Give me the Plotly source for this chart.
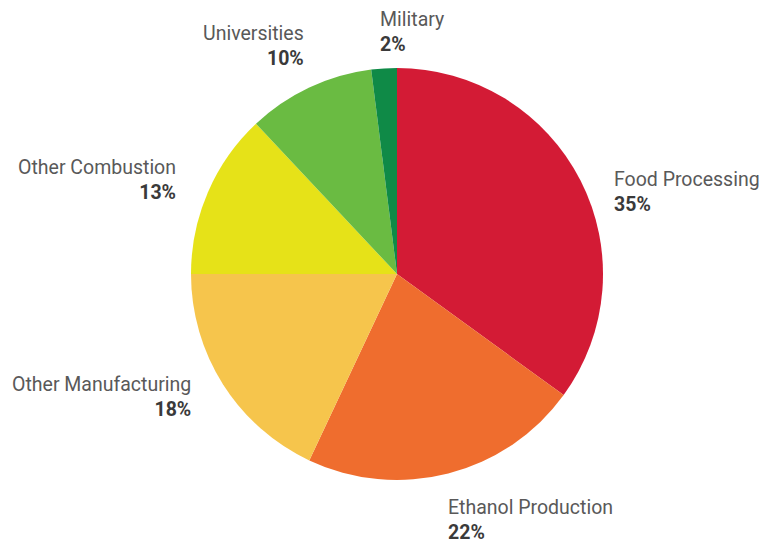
import math
import plotly.graph_objects as go

categories = ["Food Processing", "Ethanol Production", "Other Manufacturing",
              "Other Combustion", "Universities", "Military"]
values = [35, 22, 18, 13, 10, 2]
colors = ["#D31B35", "#EF6D2E", "#F6C54C", "#E6E218", "#6ABB42", "#0F8A47"]

# label placement offsets (px) from the slice edge point, and anchor side
label_dx = [31, -2, -30, -30, -3, -6]
label_dy = [12, 46, 13, -12, -42, -36]
label_side = ["left", "left", "right", "right", "right", "left"]

PAGE_OFF = 8  # default body margin of the html page
W, H = 768 - 2 * PAGE_OFF, 546 - PAGE_OFF
cx, cy, R = 397 - PAGE_OFF, 274 - PAGE_OFF, 206

fig = go.Figure(go.Pie(
    labels=categories, values=values, sort=False, direction="clockwise",
    rotation=0, marker=dict(colors=colors, line=dict(width=0)),
    textinfo="none", hoverinfo="label+percent", showlegend=False,
    domain=dict(x=[(cx - R) / W, (cx + R) / W],
                y=[(H - cy - R) / H, (H - cy + R) / H]),
))

total = sum(values)
cum = 0
annotations = []
for name, v, dx, dy, side in zip(categories, values, label_dx, label_dy, label_side):
    mid = (cum + v / 2) / total * 2 * math.pi
    cum += v
    ex = cx + R * math.sin(mid)
    ey = cy - R * math.cos(mid)
    px, py = ex + dx, ey + dy
    pct = round(v / total * 100)
    annotations.append(dict(
        x=px / W, y=1 - py / H, xref="paper", yref="paper",
        xanchor=side, yanchor="middle", align=side, showarrow=False,
        text=f"{name}<br><b><span style='color:#3a3a3a'>{pct}%</span></b>",
        font=dict(family="Roboto, Liberation Sans, sans-serif", size=19.5, color="#595959"),
    ))

fig.update_layout(
    width=W, height=H, margin=dict(l=0, r=0, t=0, b=0),
    paper_bgcolor="white", plot_bgcolor="white",
    annotations=annotations,
)

fig.write_html("out.html")
